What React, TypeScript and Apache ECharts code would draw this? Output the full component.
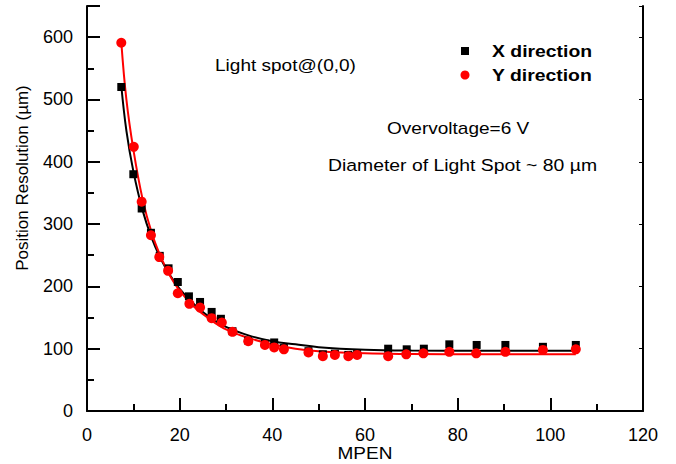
import React, { useEffect, useRef } from 'react';
import * as echarts from 'echarts';

// MPEN values and measured position resolution (µm)
const xDirMPEN = [7.4, 10.0, 11.8, 13.8, 15.7, 17.6, 19.6, 22.0, 24.4, 26.9, 28.9, 31.4, 34.8, 38.4, 40.4, 42.5, 47.8, 50.9, 53.5, 56.4, 58.3, 65.0, 69.0, 72.7, 78.2, 84.1, 90.3, 98.4, 105.5];
const xDirRes = [520, 380, 325, 286, 249, 229, 207, 184, 175, 159, 148, 128, 113, 108, 110, 101, 96, 91, 92, 90, 92, 100, 99, 100, 107, 106, 106, 103, 106];

const yDirMPEN = [7.4, 10.1, 11.8, 13.8, 15.6, 17.5, 19.6, 22.1, 24.4, 26.9, 29.1, 31.4, 34.8, 38.4, 40.4, 42.5, 47.8, 50.9, 53.5, 56.4, 58.3, 65.0, 68.9, 72.6, 78.2, 84.0, 90.3, 98.4, 105.5];
const yDirRes = [591, 424, 336, 282, 247, 225, 189, 172, 166, 149, 142, 127, 112, 106, 102, 99, 94, 88, 90, 88, 90, 88, 91, 92.5, 95, 92.5, 95, 98, 99];

// fitted curves
const fitMPEN = [7.4, 8.5, 10, 12, 14, 16, 18, 20, 23, 26, 30, 35, 40, 45, 50, 60, 70, 85, 105.5];
const xFitRes = [522, 450, 385, 322, 277, 243, 217, 196, 172, 153, 135, 121, 112, 107, 102.5, 98.5, 97, 96.5, 96.5];
const yFitRes = [592, 500, 420, 340, 285, 246, 216, 193, 168, 150, 131, 117, 107, 100, 96, 92.5, 91.5, 91, 91];

const seriesNames = ['X direction', 'Y direction'];
const annotations = ['Light spot@(0,0)', 'Overvoltage=6 V', 'Diameter of Light Spot ~ 80 µm'];
const xAxisTitle = 'MPEN';
const yAxisTitle = 'Position Resolution (µm)';

const FONT = "'Liberation Sans', Arial, Helvetica, sans-serif";

export default function App() {
  const ref = useRef<HTMLDivElement>(null);
  useEffect(() => {
    document.body.style.margin = '0';
    const chart = echarts.init(ref.current as HTMLDivElement, null, { renderer: 'svg' });
    const sx = 1.12;
    const option: any = {
      animation: false,
      backgroundColor: '#ffffff',
      textStyle: { fontFamily: FONT },
      grid: { left: 87, right: 33, top: 6, bottom: 53, containLabel: false },
      xAxis: {
        type: 'value',
        min: 0,
        max: 120,
        interval: 20,
        splitLine: { show: false },
        axisLine: { show: true, onZero: false, lineStyle: { color: '#000', width: 2 } },
        axisTick: { show: true, inside: true, length: 13, lineStyle: { color: '#000', width: 2 } },
        minorTick: { show: true, splitNumber: 2, length: 7, lineStyle: { color: '#000', width: 2 } },
        axisLabel: { color: '#000', fontSize: 18, fontFamily: FONT, margin: 15 },
      },
      yAxis: [
        {
          type: 'value',
          min: 0,
          max: 650,
          interval: 100,
          position: 'left',
          splitLine: { show: false },
          axisLine: { show: true, onZero: false, lineStyle: { color: '#000', width: 2 } },
          axisTick: { show: true, inside: true, length: 13, lineStyle: { color: '#000', width: 2 } },
          minorTick: { show: true, splitNumber: 2, length: 7, lineStyle: { color: '#000', width: 2 } },
          axisLabel: {
            color: '#000', fontSize: 18, fontFamily: FONT, margin: 14,
            showMaxLabel: false,
            formatter: (v: number) => (v > 600 ? '' : String(v)),
          },
        },
        {
          type: 'value',
          min: 0,
          max: 650,
          interval: 100,
          position: 'right',
          splitLine: { show: false },
          axisLine: { show: true, onZero: false, lineStyle: { color: '#000', width: 2 } },
          axisTick: { show: true, inside: true, length: 4, lineStyle: { color: '#000', width: 1 } },
          minorTick: { show: false },
          axisLabel: { show: false },
        },
      ],
      series: [
        {
          type: 'line',
          name: seriesNames[0] + ' fit',
          data: fitMPEN.map((x, i) => [x, xFitRes[i]]),
          smooth: 0.4,
          showSymbol: false,
          symbol: 'none',
          lineStyle: { color: '#000', width: 2 },
          z: 2,
        },
        {
          type: 'line',
          name: seriesNames[1] + ' fit',
          data: fitMPEN.map((x, i) => [x, yFitRes[i]]),
          smooth: 0.4,
          showSymbol: false,
          symbol: 'none',
          lineStyle: { color: '#ff0000', width: 2 },
          z: 3,
        },
        {
          type: 'scatter',
          name: seriesNames[0],
          data: xDirMPEN.map((x, i) => [x, xDirRes[i]]),
          symbol: 'rect',
          symbolSize: 8,
          itemStyle: { color: '#000', opacity: 1 },
          z: 4,
        },
        {
          type: 'scatter',
          name: seriesNames[1],
          data: yDirMPEN.map((x, i) => [x, yDirRes[i]]),
          symbol: 'circle',
          symbolSize: 10,
          itemStyle: { color: '#ff0000', opacity: 1 },
          z: 5,
        },
      ],
      graphic: [
        {
          type: 'text', x: 22, y: 178, rotation: Math.PI / 2,
          style: { text: yAxisTitle, fill: '#000', font: `17px ${FONT}`, textAlign: 'center', textVerticalAlign: 'middle' },
        },
        {
          type: 'text', x: 365, y: 453, scaleX: sx,
          style: { text: xAxisTitle, fill: '#000', font: `17px ${FONT}`, textAlign: 'center', textVerticalAlign: 'middle' },
        },
        {
          type: 'text', x: 215, y: 65, scaleX: sx,
          style: { text: annotations[0], fill: '#000', font: `17px ${FONT}`, textAlign: 'left', textVerticalAlign: 'middle' },
        },
        {
          type: 'text', x: 387, y: 128, scaleX: sx,
          style: { text: annotations[1], fill: '#000', font: `17px ${FONT}`, textAlign: 'left', textVerticalAlign: 'middle' },
        },
        {
          type: 'text', x: 328, y: 165, scaleX: 1.14,
          style: { text: annotations[2], fill: '#000', font: `17px ${FONT}`, textAlign: 'left', textVerticalAlign: 'middle' },
        },
        { type: 'rect', shape: { x: 461, y: 47, width: 8, height: 8 }, style: { fill: '#000' } },
        { type: 'circle', shape: { cx: 465, cy: 75, r: 4.5 }, style: { fill: '#ff0000' } },
        {
          type: 'text', x: 492, y: 51, scaleX: 1.14,
          style: { text: seriesNames[0], fill: '#000', font: `bold 17px ${FONT}`, textAlign: 'left', textVerticalAlign: 'middle' },
        },
        {
          type: 'text', x: 492, y: 75, scaleX: 1.14,
          style: { text: seriesNames[1], fill: '#000', font: `bold 17px ${FONT}`, textAlign: 'left', textVerticalAlign: 'middle' },
        },
      ],
    };
    chart.setOption(option);
    return () => chart.dispose();
  }, []);
  return <div ref={ref} style={{ width: 676, height: 464 }} />;
}
